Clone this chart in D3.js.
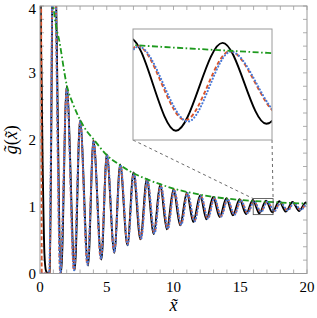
<!DOCTYPE html>
<html><head><meta charset="utf-8">
<script src="https://cdn.jsdelivr.net/npm/d3@7"></script>
<style>body{margin:0;background:#fff} text{font-family:"Liberation Serif","DejaVu Serif",serif;}</style>
</head><body><svg id="c" width="317" height="318"></svg>
<script>
const xTicks=[0,5,10,15,20];
const yTicks=[0,1,2,3,4];
const xDomain=[0,20], yDomain=[0,4];
const insetXDomain=[15.97,17.46], insetYDomain=[0.88,1.12];

const blackPts=[[0.02,6],[0.06,3.9],[0.12,2.9],[0.2,1.6],[0.26,0.9],[0.33,0.3],[0.45,0.04],[0.6,0.0],[0.72,0.02],
[1.02,5.6],[1.58,0.01],[2.0,2.80],[2.6,0.05],[3.0,2.29],[3.6,0.12],[4.0,1.99],[4.6,0.21],[5.0,1.78],[5.57,0.31],[6.0,1.63],[6.55,0.42],[7.0,1.51],[7.52,0.51],[8.0,1.41],[8.52,0.59],[9.0,1.33],[9.5,0.66],[10.0,1.26],[10.5,0.72],[11.0,1.21],[11.48,0.77],[12.0,1.17],[12.47,0.81],[12.97,1.145],[13.46,0.845],[13.96,1.125],[14.45,0.87],[14.95,1.11],[15.44,0.89],[15.94,1.10],[16.43,0.90],[16.93,1.09],[17.40,0.915],[17.92,1.08],[18.4,0.925],[18.92,1.07],[19.4,0.935],[19.92,1.062],[20.2,0.99]];

const redPts=[[0.07,6],[0.1,2.5],[0.13,0.0],[0.7,0.0],[1.02,5.5],[1.52,0.0],[2.01,2.78],[2.54,0.05],[3.01,2.28],[3.55,0.13],[4.02,1.98],[4.55,0.22],[5.02,1.77],[5.55,0.32],[6.03,1.62],[6.55,0.43],[7.03,1.50],[7.55,0.52],[8.04,1.40],[8.56,0.60],[9.04,1.32],[9.56,0.67],[10.05,1.25],[10.56,0.73],[11.05,1.20],[11.56,0.78],[12.06,1.16],[12.56,0.82],[13.05,1.13],[13.55,0.855],[14.04,1.11],[14.55,0.88],[15.03,1.095],[15.54,0.905],[16.02,1.083],[16.53,0.923],[17.01,1.072],[17.55,0.935],[18.01,1.063],[18.54,0.945],[19.0,1.055],[19.53,0.952],[20.0,1.048],[20.3,1.0]];

const bluePts=[[0.13,0.0],[0.68,0.0],[1.02,5.5],[1.53,0.0],[2.01,2.78],[2.55,0.05],[3.02,2.28],[3.56,0.13],[4.02,1.98],[4.57,0.22],[5.03,1.77],[5.57,0.32],[6.03,1.62],[6.57,0.43],[7.04,1.50],[7.57,0.52],[8.04,1.40],[8.58,0.60],[9.05,1.32],[9.58,0.67],[10.05,1.25],[10.58,0.73],[11.06,1.20],[11.58,0.78],[12.06,1.16],[12.58,0.82],[13.06,1.13],[13.57,0.853],[14.05,1.11],[14.57,0.878],[15.04,1.094],[15.56,0.903],[16.03,1.082],[16.56,0.92],[17.02,1.071],[17.57,0.933],[18.02,1.062],[18.56,0.943],[19.01,1.054],[19.55,0.95],[20.0,1.048],[20.3,1.0]];

const greenPts=[[0.92,4.3],[1.0,4.03],[1.5,3.42],[2.0,2.82],[2.5,2.52],[3.0,2.3],[3.5,2.13],[4.0,2.01],[5.0,1.77],[6.0,1.62],[7.0,1.50],[8.0,1.41],[9.0,1.335],[10.0,1.27],[11.0,1.22],[12.0,1.18],[13.0,1.145],[14.0,1.12],[15.0,1.10],[16.0,1.085],[17.0,1.073],[18.0,1.062],[19.0,1.052],[20.0,1.045]];

const series=[
  {name:"black",pts:blackPts,color:"#000",width:1.9,dash:null,cap:"butt"},
  {name:"red",pts:redPts,color:"#d9542b",width:1.9,dash:"4,2.5",cap:"butt"},
  {name:"blue",pts:bluePts,color:"#4a7ad8",width:2.1,dash:"0.1,3.2",cap:"round"},
  {name:"green",pts:greenPts,color:"#1e9a1e",width:1.8,dash:"6,2.5,1.6,2.5",cap:"butt"}
];

const svg=d3.select("#c");
const L=40,R=307,T=6,B=273.5;
const x=d3.scaleLinear().domain(xDomain).range([L,R]);
const y=d3.scaleLinear().domain(yDomain).range([B,T]);

const defs=svg.append("defs");
defs.append("clipPath").attr("id","mainclip").append("rect").attr("x",L).attr("y",T).attr("width",R-L).attr("height",B-T);

const frameCol="#9a9a9a";
const gT=svg.append("g").attr("stroke",frameCol).attr("stroke-width",0.8);
const xMinor=d3.range(0,20.001,1), yMinor=d3.range(0,4.001,0.2);
xMinor.forEach(v=>{
  gT.append("line").attr("x1",x(v)).attr("x2",x(v)).attr("y1",B).attr("y2",B-4);
  gT.append("line").attr("x1",x(v)).attr("x2",x(v)).attr("y1",T).attr("y2",T+4);
});
yMinor.forEach(v=>{
  gT.append("line").attr("y1",y(v)).attr("y2",y(v)).attr("x1",L).attr("x2",L+4);
  gT.append("line").attr("y1",y(v)).attr("y2",y(v)).attr("x1",R).attr("x2",R-4);
});

const line=(sx,sy)=>d3.line().x(d=>sx(d[0])).y(d=>sy(d[1])).curve(d3.curveMonotoneX);

const gM=svg.append("g").attr("clip-path","url(#mainclip)");
series.forEach(s=>{
  gM.append("path").attr("d",line(x,y)(s.pts)).attr("fill","none")
   .attr("stroke",s.color).attr("stroke-width",s.width)
   .attr("stroke-dasharray",s.dash).attr("stroke-linecap",s.cap);
});

svg.append("rect").attr("x",L).attr("y",T).attr("width",R-L).attr("height",B-T)
  .attr("fill","none").attr("stroke",frameCol).attr("stroke-width",1);

svg.append("g").selectAll("text").data(xTicks).join("text")
  .attr("x",d=>x(d)).attr("y",292).attr("text-anchor","middle")
  .attr("font-size",15).text(d=>d);
svg.append("g").selectAll("text").data(yTicks).join("text")
  .attr("x",36).attr("y",d=>Math.max(y(d)+5,13.5)).attr("text-anchor","end")
  .attr("font-size",15).text(d=>d);

svg.append("text").attr("x",(L+R)/2).attr("y",311).attr("text-anchor","middle")
  .attr("font-style","italic").attr("font-size",18).text("x\u0303");
svg.append("text").attr("transform",`translate(17,${(T+B)/2}) rotate(-90)`).attr("text-anchor","middle")
  .attr("font-size",18)
  .html('<tspan font-style="italic">g\u0303</tspan>(<tspan font-style="italic">x\u0303</tspan>)');

const iL=133,iR=272,iT=29,iB=140;
const rx0=x(insetXDomain[0]), rx1=x(insetXDomain[1]), ry0=y(insetYDomain[1]), ry1=y(insetYDomain[0]);
svg.append("rect").attr("x",rx0).attr("y",ry0).attr("width",rx1-rx0).attr("height",ry1-ry0)
  .attr("fill","none").attr("stroke","#444").attr("stroke-width",0.8);
svg.append("line").attr("x1",iL).attr("y1",iB).attr("x2",rx0).attr("y2",ry0)
  .attr("stroke","#444").attr("stroke-width",0.8).attr("stroke-dasharray","3,3");
svg.append("line").attr("x1",iR).attr("y1",iB).attr("x2",rx1).attr("y2",ry0)
  .attr("stroke","#444").attr("stroke-width",0.8).attr("stroke-dasharray","3,3");

const xi=d3.scaleLinear().domain(insetXDomain).range([iL,iR]);
const yi=d3.scaleLinear().domain(insetYDomain).range([iB,iT]);
defs.append("clipPath").attr("id","insclip").append("rect").attr("x",iL).attr("y",iT).attr("width",iR-iL).attr("height",iB-iT);
svg.append("rect").attr("x",iL).attr("y",iT).attr("width",iR-iL).attr("height",iB-iT).attr("fill","#fff");
const gI=svg.append("g").attr("clip-path","url(#insclip)");
series.forEach(s=>{
  gI.append("path").attr("d",line(xi,yi)(s.pts)).attr("fill","none")
   .attr("stroke",s.color).attr("stroke-width",s.width)
   .attr("stroke-dasharray",s.dash).attr("stroke-linecap",s.cap);
});
svg.append("rect").attr("x",iL).attr("y",iT).attr("width",iR-iL).attr("height",iB-iT)
  .attr("fill","none").attr("stroke",frameCol).attr("stroke-width",1);
</script></body></html>
